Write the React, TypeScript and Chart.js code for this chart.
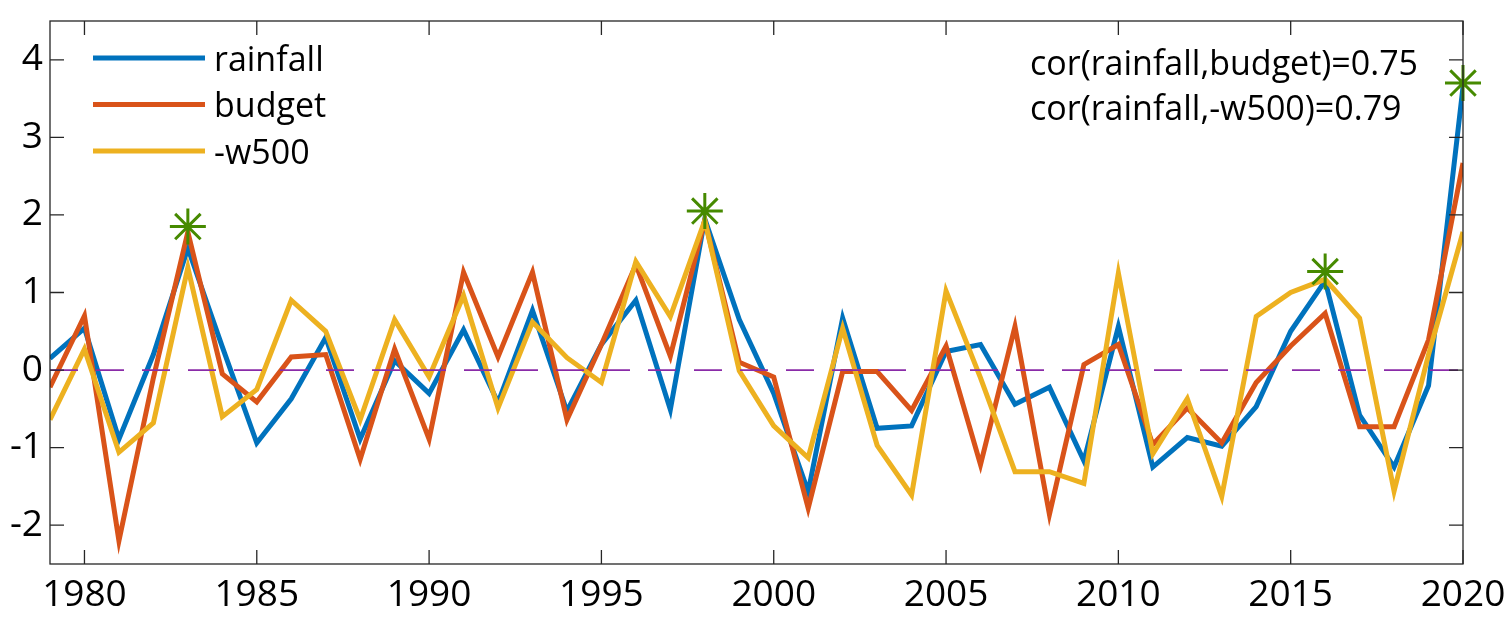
import React, { useEffect, useRef } from "react";
import { Chart, registerables } from "chart.js";

Chart.register(...registerables);

// ---------- data ----------
const years = [
  1979, 1980, 1981, 1982, 1983, 1984, 1985, 1986, 1987, 1988, 1989, 1990, 1991, 1992,
  1993, 1994, 1995, 1996, 1997, 1998, 1999, 2000, 2001, 2002, 2003, 2004, 2005, 2006,
  2007, 2008, 2009, 2010, 2011, 2012, 2013, 2014, 2015, 2016, 2017, 2018, 2019, 2020,
];

const rainfall = [
  0.15, 0.54, -0.89, 0.2, 1.57, 0.3, -0.94, -0.37, 0.42, -0.89, 0.12, -0.3, 0.52, -0.42,
  0.77, -0.53, 0.33, 0.9, -0.51, 1.95, 0.65, -0.3, -1.57, 0.67, -0.75, -0.72, 0.24, 0.33,
  -0.44, -0.22, -1.17, 0.56, -1.25, -0.87, -0.98, -0.47, 0.5, 1.15, -0.58, -1.25, -0.2, 3.65,
];

const budget = [
  -0.22, 0.7, -2.2, -0.1, 1.78, -0.05, -0.41, 0.17, 0.2, -1.15, 0.27, -0.89, 1.26, 0.17,
  1.26, -0.64, 0.33, 1.36, 0.18, 1.93, 0.1, -0.09, -1.78, -0.02, -0.02, -0.52, 0.31, -1.22,
  0.56, -1.86, 0.07, 0.33, -0.96, -0.49, -0.94, -0.16, 0.31, 0.73, -0.73, -0.73, 0.39, 2.67,
];

const negW500 = [
  -0.64, 0.27, -1.06, -0.68, 1.32, -0.6, -0.25, 0.9, 0.5, -0.64, 0.65, -0.09, 0.96, -0.49,
  0.62, 0.16, -0.16, 1.4, 0.69, 1.93, -0.01, -0.72, -1.13, 0.54, -0.97, -1.61, 1.02, -0.1,
  -1.31, -1.31, -1.46, 1.25, -1.08, -0.37, -1.63, 0.69, 1.0, 1.17, 0.67, -1.56, 0.2, 1.78,
];

const peakYears = [1983, 1998, 2016, 2020];
const peakValues = [1.85, 2.05, 1.27, 3.7];

const xTicks = [1980, 1985, 1990, 1995, 2000, 2005, 2010, 2015, 2020];
const yTicks = [-2, -1, 0, 1, 2, 3, 4];

const seriesLabels = ["rainfall", "budget", "-w500"];
const corLabels = ["cor(rainfall,budget)=0.75", "cor(rainfall,-w500)=0.79"];

// ---------- style ----------
const FONT = '"Open Sans", "Noto Sans", sans-serif';
const BLUE = "#0072BD";
const ORANGE = "#D95319";
const YELLOW = "#EDB120";
const PURPLE = "#8A2BA8";
const GREEN = "#468A00";
const AXIS = "#262626";
const seriesColors = [BLUE, ORANGE, YELLOW];

const overlayPlugin = {
  id: "overlay",
  afterDraw(chart: any) {
    const { ctx, chartArea, scales } = chart;
    const { left, right, top, bottom } = chartArea;
    ctx.save();
    // box
    ctx.strokeStyle = AXIS;
    ctx.lineWidth = 1.3;
    ctx.strokeRect(left, top, right - left, bottom - top);
    // inward ticks
    const tl = 14;
    ctx.beginPath();
    xTicks.forEach((v) => {
      const px = scales.x.getPixelForValue(v);
      ctx.moveTo(px, bottom);
      ctx.lineTo(px, bottom - tl);
      ctx.moveTo(px, top);
      ctx.lineTo(px, top + tl);
    });
    yTicks.forEach((v) => {
      const py = scales.y.getPixelForValue(v);
      ctx.moveTo(left, py);
      ctx.lineTo(left + tl, py);
      ctx.moveTo(right, py);
      ctx.lineTo(right - tl, py);
    });
    ctx.stroke();

    // legend
    ctx.font = `34px ${FONT}`;
    ctx.textAlign = "left";
    ctx.textBaseline = "alphabetic";
    seriesLabels.forEach((label, i) => {
      const y = top + 37 + i * 46.5;
      ctx.strokeStyle = seriesColors[i];
      ctx.lineWidth = 5;
      ctx.lineCap = "butt";
      ctx.beginPath();
      ctx.moveTo(left + 43, y);
      ctx.lineTo(left + 155, y);
      ctx.stroke();
      ctx.fillStyle = "#000";
      ctx.fillText(label, left + 164, y + 12.5);
    });

    // correlation text
    corLabels.forEach((label, i) => {
      ctx.fillStyle = "#000";
      ctx.fillText(label, left + 980, top + 54 + i * 45);
    });
    ctx.restore();
  },
};

export default function App() {
  const canvasRef = useRef<HTMLCanvasElement | null>(null);

  useEffect(() => {
    const canvas = canvasRef.current;
    if (!canvas) return;

    const toPoints = (vals: number[]) => years.map((yr, i) => ({ x: yr, y: vals[i] }));

    const chart = new Chart(canvas, {
      type: "line",
      data: {
        datasets: [
          {
            label: "peaks",
            type: "scatter",
            data: peakYears.map((yr, i) => ({ x: yr, y: peakValues[i] })),
            pointStyle: "star",
            pointRadius: 18,
            borderColor: GREEN,
            backgroundColor: GREEN,
            pointBorderWidth: 3,
            borderWidth: 3,
            showLine: false,
            clip: false,
            order: 0,
          } as any,
          {
            label: "zero",
            data: [
              { x: years[0], y: 0 },
              { x: years[years.length - 1], y: 0 },
            ],
            borderColor: PURPLE,
            borderWidth: 1.8,
            borderDash: [28, 18],
            pointRadius: 0,
            order: 1,
          },
          {
            label: seriesLabels[2],
            data: toPoints(negW500),
            borderColor: YELLOW,
            borderWidth: 5,
            pointRadius: 0,
            tension: 0,
            order: 2,
          },
          {
            label: seriesLabels[1],
            data: toPoints(budget),
            borderColor: ORANGE,
            borderWidth: 5,
            pointRadius: 0,
            tension: 0,
            order: 3,
          },
          {
            label: seriesLabels[0],
            data: toPoints(rainfall),
            borderColor: BLUE,
            borderWidth: 5,
            pointRadius: 0,
            tension: 0,
            order: 4,
          },
        ],
      },
      options: {
        responsive: false,
        animation: false,
        devicePixelRatio: 1,
        layout: { padding: { left: 0, right: 49, top: 11, bottom: 0 } },
        plugins: {
          legend: { display: false },
          tooltip: { enabled: false },
          title: { display: false },
        },
        scales: {
          x: {
            type: "linear",
            min: years[0],
            max: years[years.length - 1],
            grid: { display: false, drawTicks: false },
            border: { display: false },
            afterBuildTicks: (scale: any) => {
              scale.ticks = xTicks.map((v) => ({ value: v }));
            },
            afterFit: (scale: any) => {
              scale.height = 53;
              scale.paddingLeft = 0;
              scale.paddingRight = 0;
            },
            ticks: {
              autoSkip: false,
              maxRotation: 0,
              padding: 9,
              color: "#000",
              font: { family: FONT, size: 37 },
              callback: (v: any) => String(v),
            },
          },
          y: {
            type: "linear",
            min: -2.5,
            max: 4.5,
            grid: { display: false, drawTicks: false },
            border: { display: false },
            afterBuildTicks: (scale: any) => {
              scale.ticks = yTicks.map((v) => ({ value: v }));
            },
            afterFit: (scale: any) => {
              scale.width = 50;
              scale.paddingTop = 0;
              scale.paddingBottom = 0;
            },
            ticks: {
              autoSkip: false,
              padding: 7,
              color: "#000",
              font: { family: FONT, size: 37 },
              callback: (v: any) => String(v),
            },
          },
        },
      },
      plugins: [overlayPlugin],
    } as any);

    return () => chart.destroy();
  }, []);

  return (
    <div
      style={{
        position: "absolute",
        left: 0,
        top: 0,
        width: 1512,
        height: 617,
        background: "#fff",
      }}
    >
      <canvas
        ref={canvasRef}
        width={1512}
        height={617}
        style={{ display: "block", width: 1512, height: 617 }}
      />
    </div>
  );
}
